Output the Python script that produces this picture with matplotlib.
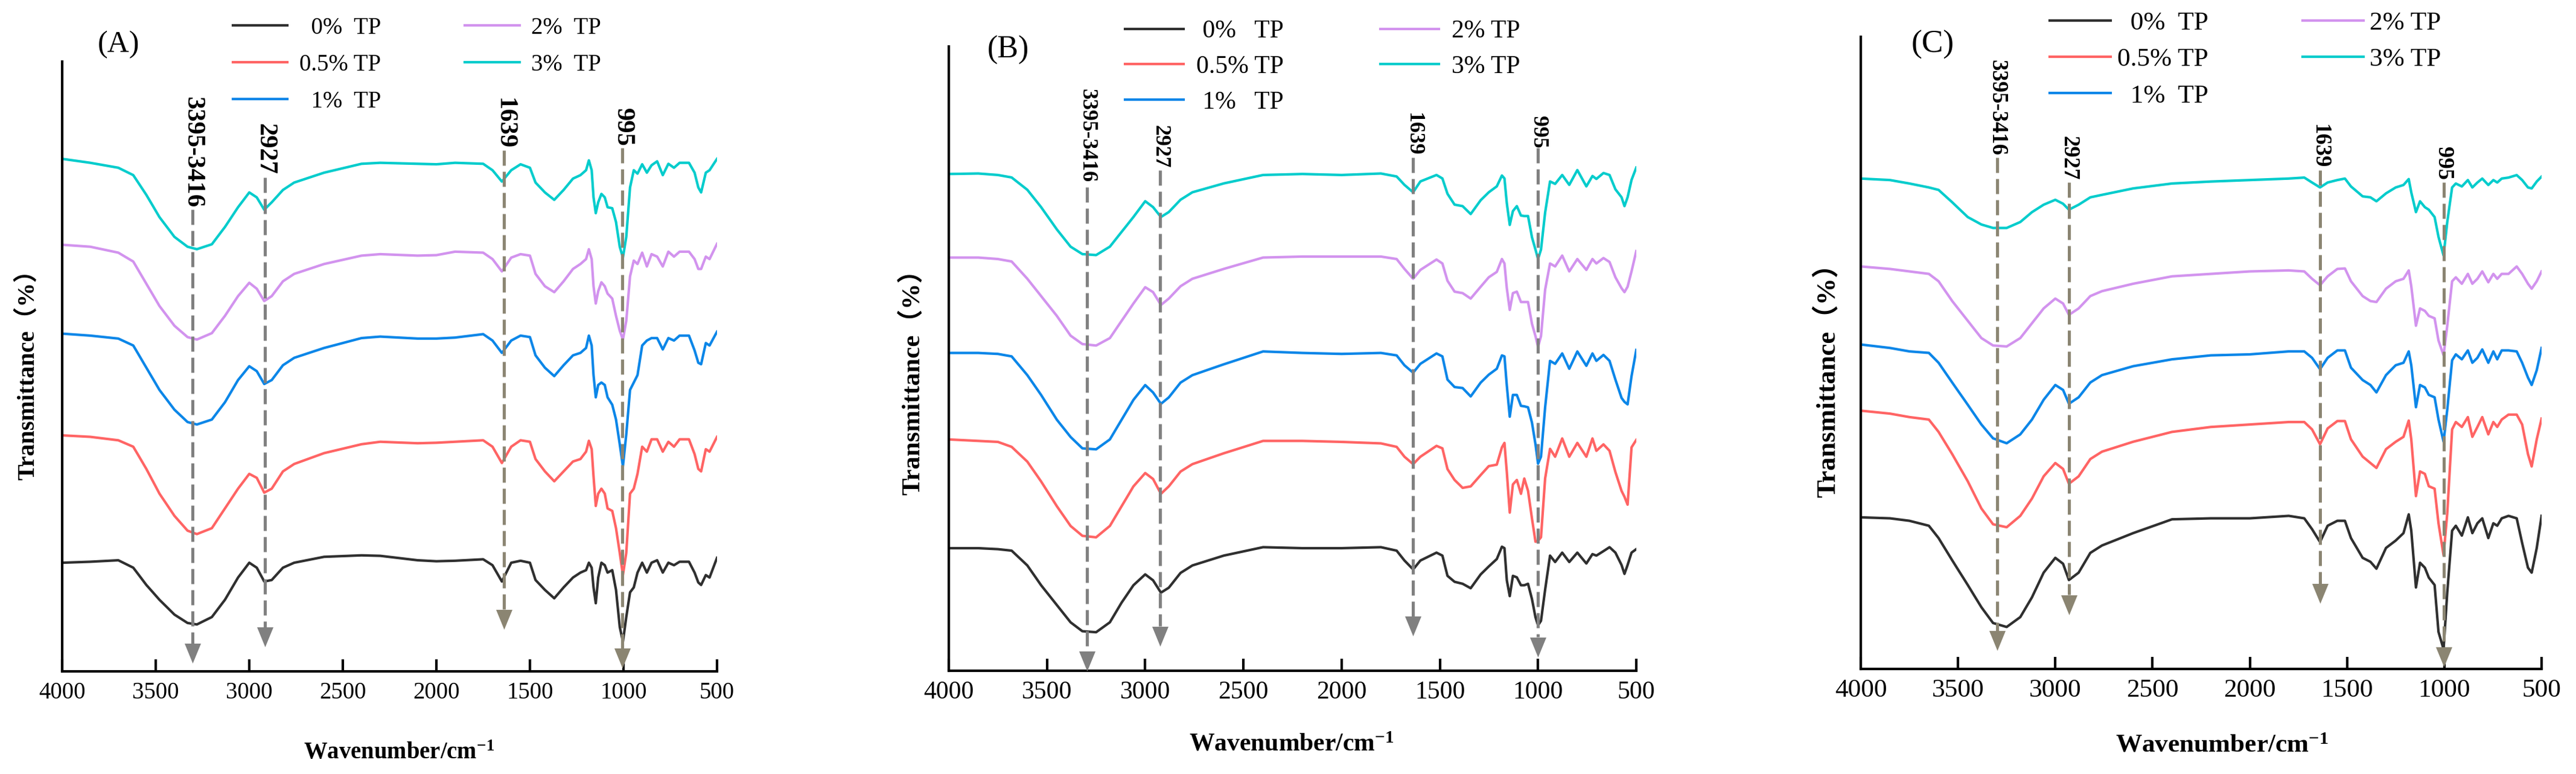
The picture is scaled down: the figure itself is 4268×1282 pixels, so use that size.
import matplotlib
matplotlib.use('Agg')
import matplotlib.pyplot as plt

plt.rcParams['font.family'] = ['Liberation Serif', 'DejaVu Serif']
plt.rcParams['mathtext.fontset'] = 'custom'
plt.rcParams['mathtext.rm'] = 'Liberation Serif'
plt.rcParams['mathtext.bf'] = 'Liberation Serif:bold'
plt.rcParams['mathtext.it'] = 'Liberation Serif:italic'

# ---------------- data ----------------
series_colors = ['#2f2f2f', '#ff6464', '#0b86e8', '#d293ee', '#00cccc']
x_ticks = [4000, 3500, 3000, 2500, 2000, 1500, 1000, 500]

# Panel A
wn_A = [4000, 3850, 3700, 3620, 3550, 3480, 3400, 3330, 3280, 3200, 3130, 3060, 3000, 2960, 2920, 2880,
        2820, 2760, 2600, 2400, 2300, 2100, 2000, 1900, 1750, 1700, 1650, 1600, 1550, 1500, 1470, 1420,
        1370, 1320, 1270, 1230, 1200, 1185, 1170, 1160, 1148, 1135, 1118, 1100, 1085, 1060, 1040, 1020,
        1003, 985, 965, 945, 925, 900, 875, 850, 820, 790, 760, 730, 700, 650, 620, 600, 585, 560, 540, 500]
A_tp0 = [220, 222, 225, 210, 175, 145, 115, 98, 95, 110, 145, 190, 220, 210, 182, 185, 210, 220, 232, 235,
         234, 225, 223, 224, 227, 215, 182, 220, 224, 220, 185, 165, 148, 170, 190, 200, 205, 220, 210, 170,
         138, 190, 220, 215, 200, 205, 165, 90, 60, 110, 160, 170, 200, 220, 200, 220, 225, 200, 220, 215,
         222, 222, 200, 180, 175, 195, 190, 230]
A_tp05 = [478, 475, 468, 455, 410, 360, 315, 285, 278, 290, 330, 370, 400, 392, 362, 370, 405, 420, 442, 460,
          465, 462, 463, 465, 468, 455, 422, 455, 468, 465, 430, 405, 385, 405, 425, 430, 445, 467, 450, 395,
          335, 360, 370, 360, 330, 325, 290, 240, 195, 240, 360, 370, 400, 455, 445, 470, 470, 445, 465, 455,
          470, 470, 440, 410, 405, 450, 445, 475]
A_tp1 = [684, 680, 674, 660, 615, 570, 530, 505, 500, 510, 545, 590, 618, 608, 582, 590, 620, 635, 655, 675,
         678, 674, 674, 676, 683, 670, 645, 670, 680, 677, 640, 615, 598, 620, 640, 645, 655, 680, 660, 600,
         555, 580, 585, 580, 555, 540, 510, 460, 415, 480, 570, 585, 600, 660, 670, 675, 675, 652, 675, 670,
         680, 680, 650, 625, 622, 665, 660, 688]
A_tp2 = [864, 860, 848, 830, 785, 740, 700, 677, 672, 685, 720, 760, 787, 775, 750, 760, 790, 805, 825, 842,
         845, 842, 843, 850, 848, 835, 810, 838, 845, 842, 805, 780, 768, 790, 815, 825, 835, 855, 835, 780,
         745, 770, 788, 780, 765, 755, 720, 690, 672, 710, 800, 832, 825, 848, 820, 845, 840, 820, 850, 840,
         850, 850, 835, 815, 815, 840, 835, 866]
A_tp3 = [1038, 1030, 1020, 1005, 965, 920, 880, 860, 855, 865, 900, 940, 970, 960, 935, 950, 975, 990, 1010, 1028,
         1030, 1028, 1027, 1030, 1028, 1015, 992, 1015, 1027, 1020, 990, 970, 955, 975, 998, 1005, 1015, 1035, 1015, 960,
         928, 950, 967, 960, 940, 938, 910, 860, 838, 880, 980, 1015, 1008, 1027, 1010, 1025, 1033, 1005, 1028, 1020,
         1030, 1030, 1010, 980, 970, 1010, 1015, 1038]

# Panel B
wn_B = [4000, 3850, 3750, 3680, 3600, 3530, 3450, 3380, 3320, 3250, 3180, 3120, 3060, 3000, 2960, 2920, 2880,
        2820, 2760, 2600, 2400, 2200, 2000, 1800, 1720, 1680, 1636, 1599, 1517, 1487, 1461, 1425, 1384, 1343,
        1292, 1251, 1210, 1184, 1171, 1159, 1144, 1128, 1108, 1087, 1070, 1051, 1031, 1013, 1000, 985, 964,
        939, 913, 877, 841, 800, 754, 723, 703, 667, 636, 606, 575, 560, 544, 524, 500]
B_tp0 = [248, 248, 246, 243, 213, 173, 133, 98, 80, 78, 98, 138, 173, 195, 183, 158, 168, 198, 213, 233,
         250, 248, 248, 250, 243, 223, 205, 223, 239, 233, 192, 180, 176, 167, 195, 211, 226, 251, 248, 183,
         151, 192, 189, 173, 173, 176, 145, 108, 92, 101, 164, 233, 220, 239, 220, 239, 217, 236, 233, 242,
         250, 239, 214, 196, 214, 239, 246]
B_tp05 = [468, 465, 463, 453, 423, 383, 333, 293, 273, 270, 293, 333, 373, 400, 388, 358, 373, 403, 418, 440,
          465, 465, 463, 460, 453, 433, 418, 433, 455, 450, 408, 386, 370, 373, 396, 414, 417, 452, 461, 402,
          320, 377, 386, 358, 389, 364, 308, 261, 263, 270, 389, 449, 433, 470, 433, 461, 433, 470, 445, 458,
          445, 402, 364, 352, 336, 452, 467]
B_tp1 = [643, 643, 641, 636, 598, 558, 508, 473, 450, 448, 468, 508, 548, 578, 563, 540, 553, 583, 598, 620,
         646, 643, 641, 643, 638, 618, 603, 621, 642, 636, 589, 574, 572, 555, 583, 599, 611, 638, 636, 577,
         514, 558, 558, 536, 535, 533, 502, 458, 419, 433, 533, 627, 621, 642, 611, 646, 617, 642, 627, 639,
         627, 589, 552, 544, 539, 596, 649]
B_tp2 = [836, 836, 833, 828, 793, 758, 718, 678, 661, 658, 673, 708, 743, 776, 766, 740, 753, 778, 793, 813,
         836, 838, 838, 838, 833, 813, 793, 811, 832, 824, 789, 767, 764, 753, 777, 796, 807, 833, 824, 774,
         730, 764, 767, 746, 746, 746, 702, 677, 655, 677, 771, 824, 818, 840, 808, 833, 811, 833, 824, 835,
         827, 796, 774, 766, 777, 808, 849]
B_tp3 = [1005, 1006, 1003, 998, 973, 938, 893, 858, 843, 841, 858, 888, 918, 950, 938, 918, 928, 953, 968, 986,
         1003, 1005, 1003, 1006, 1000, 983, 968, 990, 1003, 996, 965, 943, 940, 924, 952, 968, 980, 1002, 996, 946,
         902, 930, 940, 921, 920, 920, 877, 852, 833, 852, 927, 990, 985, 1003, 983, 1013, 980, 1001, 995, 1007,
         1003, 974, 958, 940, 958, 993, 1018]

# Panel C
wn_C = [4000, 3850, 3750, 3650, 3600, 3530, 3450, 3380, 3320, 3250, 3180, 3120, 3060, 3000, 2960, 2930, 2880,
        2820, 2760, 2600, 2400, 2200, 2000, 1800, 1720, 1680, 1639, 1600, 1550, 1511, 1480, 1420, 1380, 1349,
        1300, 1250, 1210, 1183, 1170, 1146, 1125, 1100, 1080, 1050, 1030, 1004, 985, 960, 941, 910, 879, 856,
        830, 805, 774, 748, 728, 705, 670, 628, 600, 570, 551, 525, 500]
C_tp0 = [307, 305, 300, 290, 265, 220, 170, 125, 93, 85, 105, 145, 195, 225, 213, 180, 195, 235, 250, 275,
         303, 305, 305, 310, 305, 283, 257, 290, 300, 300, 265, 225, 217, 203, 245, 260, 275, 313, 280, 165,
         215, 205, 185, 170, 75, 40, 155, 280, 290, 270, 307, 275, 295, 305, 265, 295, 290, 305, 310, 305,
         255, 205, 195, 245, 310]
C_tp05 = [523, 517, 510, 505, 480, 435, 380, 325, 293, 287, 310, 345, 390, 417, 405, 375, 390, 425, 440, 460,
          480, 490, 495, 500, 500, 485, 455, 487, 502, 502, 465, 430, 417, 407, 445, 460, 470, 503, 465, 350,
          400, 395, 370, 365, 295, 230, 315, 485, 500, 490, 510, 470, 490, 510, 475, 500, 490, 505, 515, 515,
          495, 435, 410, 465, 507]
C_tp1 = [657, 650, 643, 640, 620, 580, 535, 495, 467, 457, 475, 505, 545, 575, 565, 537, 550, 580, 595, 613,
         627, 635, 637, 643, 643, 630, 607, 630, 645, 645, 610, 585, 575, 560, 595, 615, 620, 643, 615, 530,
         575, 570, 555, 550, 505, 460, 525, 625, 637, 627, 645, 620, 630, 647, 620, 643, 627, 645, 645, 643,
         620, 590, 575, 605, 650]
C_tp2 = [815, 810, 805, 800, 785, 745, 705, 670, 655, 653, 670, 700, 730, 750, 740, 717, 730, 755, 765, 780,
         795, 800, 805, 807, 805, 790, 777, 795, 810, 811, 785, 755, 745, 743, 770, 785, 790, 807, 775, 695,
         730, 725, 715, 710, 665, 635, 695, 785, 793, 780, 800, 780, 790, 805, 783, 800, 790, 800, 800, 815,
         800, 780, 770, 785, 805]
C_tp3 = [993, 990, 983, 975, 970, 945, 915, 900, 893, 893, 905, 925, 940, 950, 942, 930, 940, 955, 960, 973,
         983, 987, 990, 993, 995, 985, 975, 985, 990, 993, 977, 957, 955, 947, 963, 975, 980, 992, 965, 925,
         947, 935, 930, 915, 875, 837, 905, 975, 983, 977, 990, 975, 985, 993, 980, 990, 985, 993, 995, 1000,
         990, 975, 973, 987, 997]

# Peak annotations: wavenumber of the guide line, text, label centre, line top, arrow top, arrow tip
ann_text = ['3395-3416', '2927', '1639', '995']
A_ann_wn = [3303, 2915, 1638, 1005]
A_ann_label = [1052, 1058, 1110, 1102]
A_ann_top = [935, 1000, 1055, 1060]
A_ann_head = [55, 88, 125, 45]
A_ann_tip = [18, 52, 85, 10]
B_ann_wn = [3295, 2925, 1636, 1000]
B_ann_label = [1083, 1061, 1086, 1090]
B_ann_top = [978, 1013, 1038, 1058]
B_ann_head = [40, 90, 110, 68]
B_ann_tip = [0, 50, 70, 28]
C_ann_wn = [3299, 2929, 1639, 1004]
C_ann_label = [1137, 1034, 1059, 1024]
C_ann_top = [1035, 985, 1010, 985]
C_ann_head = [77, 150, 172, 43]
C_ann_tip = [37, 110, 133, 5]

for arr_set, grid in (((A_tp0, A_tp05, A_tp1, A_tp2, A_tp3), wn_A),
                      ((B_tp0, B_tp05, B_tp1, B_tp2, B_tp3), wn_B),
                      ((C_tp0, C_tp05, C_tp1, C_tp2, C_tp3), wn_C)):
    for a in arr_set:
        if len(a) != len(grid):
            raise ValueError('length mismatch %d vs %d' % (len(a), len(grid)))

# ---------------- figure ----------------
W, H, DPI = 4268, 1282, 300
fig = plt.figure(figsize=(W / DPI, H / DPI), dpi=DPI)

GRAY = '#808080'
TAUPE = '#8b8572'

panels = [
    dict(letter='(A)', rect_px=(103, 102, 1188, 1112), ytop=1235, wn=wn_A,
         series=[A_tp0, A_tp05, A_tp1, A_tp2, A_tp3],
         labels=['  0%  TP', '0.5% TP', '  1%  TP', '2%  TP', '3%  TP'],
         fs=9.3, fs_ann=10.2, fs_letter=12.0,
         leg_px=(386, 28), leg_pad=0.5, leg_colsp=3.6, leg_lsp=0.62,
         letter_px=(197, 74), ylab_px=(46, 611), xlab_px=(661, 1247),
         ann=(A_ann_wn, A_ann_label, A_ann_top, A_ann_head, A_ann_tip),
         ann_colors=[GRAY, GRAY, TAUPE, TAUPE]),
    dict(letter='(B)', rect_px=(1572, 77, 2711, 1111), ytop=1263, wn=wn_B,
         series=[B_tp0, B_tp05, B_tp1, B_tp2, B_tp3],
         labels=[' 0%   TP', '0.5% TP', ' 1%   TP', '2% TP', '3% TP'],
         fs=10.0, fs_ann=8.6, fs_letter=12.5,
         leg_px=(1864, 33), leg_pad=0.5, leg_colsp=3.85, leg_lsp=0.48,
         letter_px=(1670, 83), ylab_px=(1512, 623), xlab_px=(2140, 1233),
         ann=(B_ann_wn, B_ann_label, B_ann_top, B_ann_head, B_ann_tip),
         ann_colors=[GRAY, GRAY, GRAY, GRAY]),
    dict(letter='(C)', rect_px=(3083, 61, 4211, 1108), ytop=1280, wn=wn_C,
         series=[C_tp0, C_tp05, C_tp1, C_tp2, C_tp3],
         labels=['  0%  TP', '0.5% TP', '  1%  TP', '2% TP', '3% TP'],
         fs=10.4, fs_ann=8.8, fs_letter=12.8,
         leg_px=(3396, 19), leg_pad=0.25, leg_colsp=3.6, leg_lsp=0.48,
         letter_px=(3202, 74), ylab_px=(3027, 619), xlab_px=(3681, 1236),
         ann=(C_ann_wn, C_ann_label, C_ann_top, C_ann_head, C_ann_tip),
         ann_colors=[TAUPE, TAUPE, TAUPE, TAUPE]),
]

tri = [(-0.82, 1.0), (0.82, 1.0), (0.0, -1.0)]

for p in panels:
    l, t, r, b = p['rect_px']
    ax = fig.add_axes([l / W, 1 - b / H, (r - l) / W, (b - t) / H])
    ax.set_xlim(4000, 500)
    ax.set_ylim(0, p['ytop'])

    for vals, col, lab in zip(p['series'], series_colors, p['labels']):
        ax.plot(p['wn'], vals, color=col, lw=1.0, label=lab, zorder=2,
                solid_joinstyle='round')

    wns, lab_v, top_v, head_v, tip_v = p['ann']
    for x, txt, lv, tv, hv, pv, c in zip(wns, ann_text, lab_v, top_v, head_v, tip_v, p['ann_colors']):
        ax.plot([x, x], [tv, hv], color=c, lw=1.2, ls=(0, (5, 2)), zorder=3)
        ax.plot([x], [(hv + pv) / 2.0], marker=tri, ms=7.9, color=c, mec='none', zorder=3)
        ax.text(x, lv, txt, rotation=270, ha='center', va='center',
                fontsize=p['fs_ann'], fontweight='bold')

    for s in ('top', 'right'):
        ax.spines[s].set_visible(False)
    for s in ('left', 'bottom'):
        ax.spines[s].set_linewidth(1.0)
    ax.set_yticks([])
    ax.set_xticks(x_ticks)
    ax.set_xticklabels([str(v) for v in x_ticks])
    ax.tick_params(axis='x', direction='in', length=4.8, width=1.0,
                   labelsize=p['fs'], pad=4)

    ax.set_xlabel(r'Wavenumber/cm$^{\mathbf{-1}}$', fontsize=p['fs'], fontweight='bold')
    ax.xaxis.label.set_va('center')
    ax.xaxis.set_label_coords((p['xlab_px'][0] - l) / (r - l), (b - p['xlab_px'][1]) / (b - t))
    ax.set_ylabel('Transmittance（%）', fontsize=p['fs'] + 0.3, fontweight='bold',
                  family=['Liberation Serif', 'Noto Sans CJK SC'])
    ax.yaxis.label.set_va('center')
    ax.yaxis.set_label_coords((p['ylab_px'][0] - l) / (r - l), (b - p['ylab_px'][1]) / (b - t))

    ax.text((p['letter_px'][0] - l) / (r - l), (b - p['letter_px'][1]) / (b - t), p['letter'],
            transform=ax.transAxes, ha='center', va='center', fontsize=p['fs_letter'])

    ax.legend(loc='upper left', bbox_to_anchor=(p['leg_px'][0] / W, 1 - p['leg_px'][1] / H),
              bbox_transform=fig.transFigure, ncol=2, frameon=False,
              borderpad=0, borderaxespad=0, handlelength=2.33,
              handletextpad=p['leg_pad'], columnspacing=p['leg_colsp'],
              labelspacing=p['leg_lsp'], fontsize=p['fs'])

fig.savefig('out.png', dpi=DPI)
